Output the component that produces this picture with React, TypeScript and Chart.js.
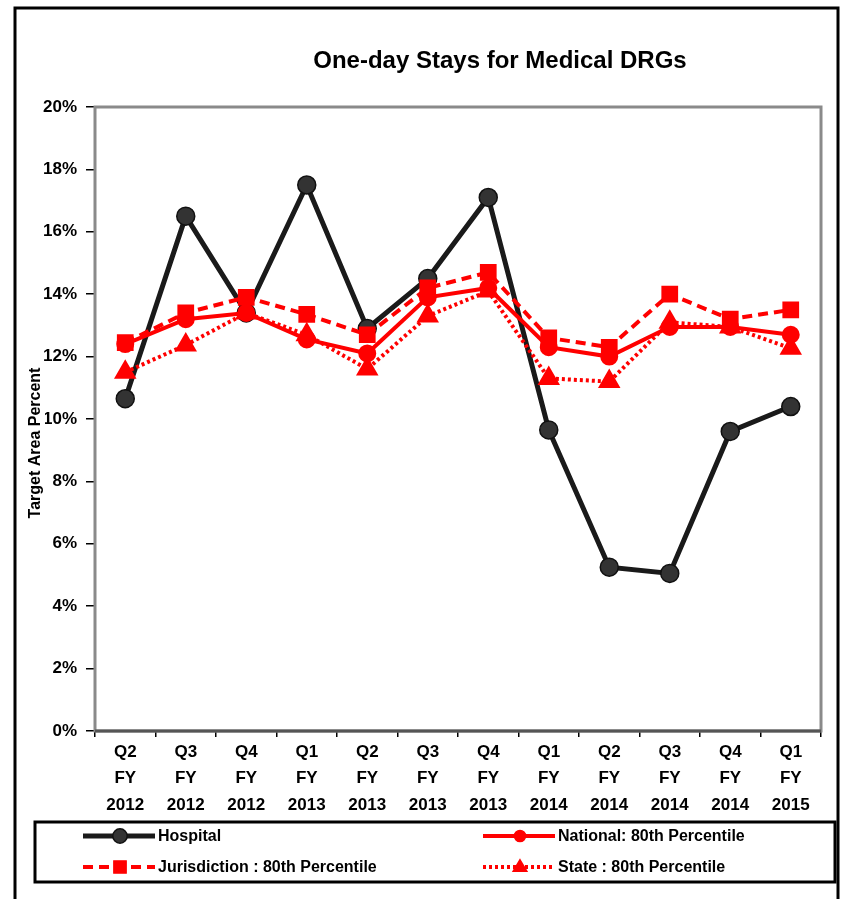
import React, { useEffect, useRef } from 'react';
import { Chart, registerables } from 'chart.js';
Chart.register(...registerables);

const chartTitle = 'One-day Stays for Medical DRGs';
const yAxisTitle = 'Target Area Percent';
const quarters = ['Q2', 'Q3', 'Q4', 'Q1', 'Q2', 'Q3', 'Q4', 'Q1', 'Q2', 'Q3', 'Q4', 'Q1'];
const fiscalYears = ['2012', '2012', '2012', '2013', '2013', '2013', '2013', '2014', '2014', '2014', '2014', '2015'];
const hospital = [10.65, 16.5, 13.4, 17.5, 12.9, 14.5, 17.1, 9.65, 5.25, 5.05, 9.6, 10.4];
const national = [12.4, 13.2, 13.4, 12.55, 12.1, 13.9, 14.2, 12.3, 12.0, 12.95, 12.95, 12.7];
const jurisdiction = [12.45, 13.4, 13.9, 13.35, 12.7, 14.2, 14.7, 12.6, 12.3, 14.0, 13.2, 13.5];
const state = [11.5, 12.37, 13.4, 12.7, 11.6, 13.3, 14.1, 11.3, 11.2, 13.1, 12.95, 12.27];
const seriesNames = ['Hospital', 'National: 80th Percentile', 'Jurisdiction : 80th Percentile', 'State : 80th Percentile'];

const FONT = '"Liberation Sans", Arial, sans-serif';

function drawMarker(ctx: CanvasRenderingContext2D, style: string, x: number, y: number, r: number, fill: string, stroke: string) {
  ctx.save();
  ctx.setLineDash([]);
  ctx.fillStyle = fill;
  ctx.strokeStyle = stroke;
  ctx.lineWidth = 1.5;
  ctx.beginPath();
  if (style === 'circle') {
    ctx.arc(x, y, r, 0, Math.PI * 2);
  } else if (style === 'rect') {
    ctx.rect(x - r * 0.85, y - r * 0.85, r * 1.7, r * 1.7);
  } else if (style === 'triangle') {
    ctx.moveTo(x, y - r);
    ctx.lineTo(x + r * 0.95, y + r * 0.6);
    ctx.lineTo(x - r * 0.95, y + r * 0.6);
    ctx.closePath();
  }
  ctx.fill();
  ctx.stroke();
  ctx.restore();
}

const decorPlugin = {
  id: 'decor',
  beforeDraw(chart: any) {
    const ctx = chart.ctx as CanvasRenderingContext2D;
    ctx.save();
    ctx.fillStyle = '#ffffff';
    ctx.fillRect(0, 0, chart.width, chart.height);
    ctx.strokeStyle = '#000';
    ctx.lineWidth = 3;
    ctx.strokeRect(15, 8, 823, 910);
    ctx.restore();
  },
  beforeDatasetsDraw(chart: any) {
    const { ctx, chartArea } = chart;
    ctx.save();
    ctx.strokeStyle = '#8a8a8a';
    ctx.lineWidth = 3;
    ctx.strokeRect(chartArea.left, chartArea.top, chartArea.right - chartArea.left, chartArea.bottom - chartArea.top);
    ctx.strokeStyle = '#555';
    ctx.beginPath();
    ctx.moveTo(chartArea.left, chartArea.bottom);
    ctx.lineTo(chartArea.right, chartArea.bottom);
    ctx.stroke();
    ctx.restore();
  },
  afterDraw(chart: any) {
    const ctx = chart.ctx as CanvasRenderingContext2D;
    ctx.save();
    // title
    ctx.fillStyle = '#000';
    ctx.font = `bold 24px ${FONT}`;
    ctx.textAlign = 'center';
    ctx.textBaseline = 'middle';
    ctx.fillText(chartTitle, 500, 61);
    // y axis title
    ctx.save();
    ctx.translate(36, 443);
    ctx.rotate(-Math.PI / 2);
    ctx.font = `bold 16px ${FONT}`;
    const w = ctx.measureText(yAxisTitle).width;
    ctx.fillStyle = '#fff';
    ctx.fillRect(-w / 2 - 2, -9, w + 4, 18);
    ctx.fillStyle = '#000';
    ctx.textAlign = 'center';
    ctx.textBaseline = 'middle';
    ctx.fillText(yAxisTitle, 0, 0);
    ctx.restore();
    // legend
    const lx = 35, ly = 822, lw = 800, lh = 60;
    ctx.strokeStyle = '#000';
    ctx.lineWidth = 3;
    ctx.setLineDash([]);
    ctx.strokeRect(lx, ly, lw, lh);
    const slots = [
      { ds: 0, x: 83, y: 836 },
      { ds: 1, x: 483, y: 836 },
      { ds: 2, x: 83, y: 867 },
      { ds: 3, x: 483, y: 867 },
    ];
    ctx.font = `bold 16px ${FONT}`;
    ctx.textAlign = 'left';
    ctx.textBaseline = 'middle';
    slots.forEach((s) => {
      const ds: any = chart.data.datasets[s.ds];
      ctx.save();
      ctx.strokeStyle = ds.borderColor;
      ctx.lineWidth = ds.borderWidth;
      ctx.setLineDash(ds.borderDash || []);
      ctx.lineCap = 'butt';
      ctx.beginPath();
      ctx.moveTo(s.x, s.y);
      ctx.lineTo(s.x + 72, s.y);
      ctx.stroke();
      ctx.restore();
      drawMarker(ctx, ds.pointStyle, s.x + 37, s.y, ds.pointRadius * 0.8, ds.pointBackgroundColor, ds.pointBorderColor);
      ctx.fillStyle = '#000';
      ctx.fillText(ds.label, s.x + 75, s.y + 1);
    });
    ctx.restore();
  },
};

export default function App() {
  const ref = useRef<HTMLCanvasElement | null>(null);
  useEffect(() => {
    if (!ref.current) return;
    const labels = quarters.map((q, i) => [q, 'FY', fiscalYears[i]]);
    const chart = new Chart(ref.current, {
      type: 'line',
      data: {
        labels,
        datasets: [
          {
            label: seriesNames[0],
            data: hospital,
            borderColor: '#1a1a1a',
            borderWidth: 5,
            pointStyle: 'circle',
            pointRadius: 9,
            pointBackgroundColor: '#333333',
            pointBorderColor: '#111111',
            pointBorderWidth: 1.5,
            order: 4,
          },
          {
            label: seriesNames[1],
            data: national,
            borderColor: '#ff0000',
            borderWidth: 4,
            pointStyle: 'circle',
            pointRadius: 7,
            pointBackgroundColor: '#ff0000',
            pointBorderColor: '#ff0000',
            order: 1,
          },
          {
            label: seriesNames[2],
            data: jurisdiction,
            borderColor: '#ff0000',
            borderWidth: 4,
            borderDash: [10, 6],
            pointStyle: 'rect',
            pointRadius: 9,
            pointBackgroundColor: '#ff0000',
            pointBorderColor: '#ff0000',
            order: 2,
          },
          {
            label: seriesNames[3],
            data: state,
            borderColor: '#ff0000',
            borderWidth: 4,
            borderDash: [3, 3],
            pointStyle: 'triangle',
            pointRadius: 9,
            pointBackgroundColor: '#ff0000',
            pointBorderColor: '#ff0000',
            order: 3,
          },
        ],
      },
      options: {
        animation: false,
        responsive: false,
        maintainAspectRatio: false,
        layout: { padding: { top: 107, left: 20, right: 26, bottom: 80 } },
        plugins: { legend: { display: false }, title: { display: false }, tooltip: { enabled: false } },
        scales: {
          x: {
            offset: true,
            grid: { display: true, drawOnChartArea: false, drawTicks: true, tickLength: 6, offset: true, color: '#000', lineWidth: 1.5 },
            border: { display: false },
            ticks: {
              color: '#000',
              font: { family: FONT, size: 17, weight: 'bold', lineHeight: 1.55 },
              padding: 2,
              maxRotation: 0,
              autoSkip: false,
            },
            afterFit: (s: any) => { s.height = 88; },
          },
          y: {
            min: 0,
            max: 20,
            grid: { drawOnChartArea: false, drawTicks: true, tickLength: 9, color: '#000', lineWidth: 1.5 },
            border: { display: false },
            ticks: {
              stepSize: 2,
              color: '#000',
              padding: 9,
              font: { family: FONT, size: 17, weight: 'bold' },
              callback: (v: any) => `${v}%`,
            },
            afterFit: (s: any) => { s.width = 75; },
          },
        },
      },
      plugins: [decorPlugin],
    } as any);
    return () => chart.destroy();
  }, []);
  return (
    <div style={{ position: 'absolute', left: 0, top: 0, width: 847, height: 899 }}>
      <canvas ref={ref} width={847} height={899} style={{ width: 847, height: 899 }} />
    </div>
  );
}
